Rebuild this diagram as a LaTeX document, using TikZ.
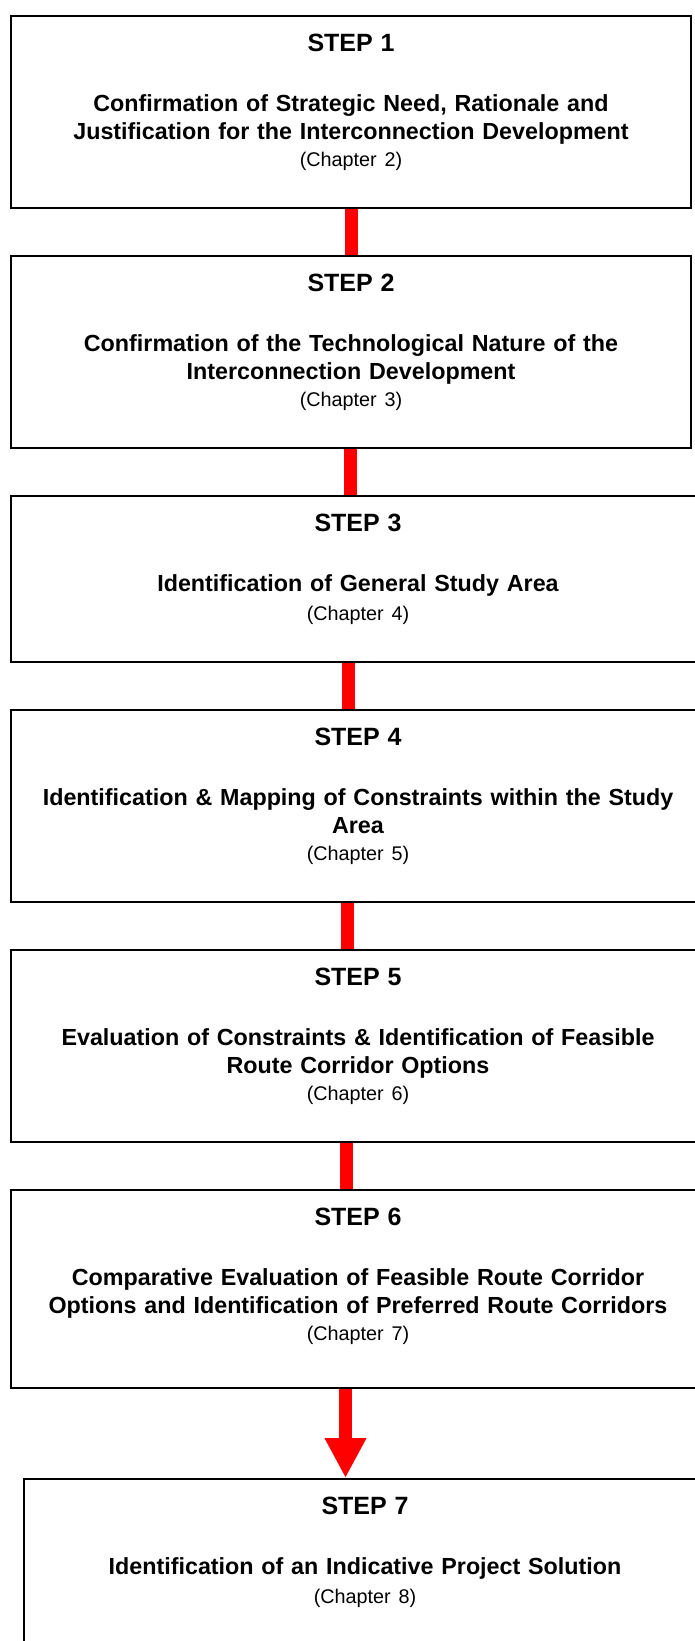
\documentclass[tikz,border=0pt]{standalone}
\usepackage{fontspec}
\setmainfont{Liberation Sans}
\usetikzlibrary{arrows.meta, positioning}

\begin{document}
\begin{tikzpicture}[
    x=1pt, y=1pt,
    stepbox/.style={rectangle, draw, line width=1.5pt, align=center, inner xsep=0pt, inner ysep=0pt,
        text width=680pt, font=\fontsize{23.3}{28.5}\selectfont\bfseries,
        execute at begin node={\rule{0pt}{35.5pt}},
        execute at end node={\rule[-41pt]{0pt}{41pt}}},
    link/.style={draw=red, line width=13pt},
    bigarrow/.style={link, -{Triangle[width=39pt, length=40pt]}, color=red}
 ]
\useasboundingbox (0,0) rectangle (694,-1641);

\node[stepbox, anchor=north] (StepOne) at (351,-15) {{\fontsize{25}{28.5}\selectfont STEP 1}\\[31.5pt]Confirmation of Strategic Need, Rationale and\\Justification for the Interconnection Development\\[-1.5pt]{\mdseries\fontsize{19.8}{28.5}\selectfont (Chapter 2)}};

\node[stepbox, below=46.5pt of StepOne] (StepTwo) {{\fontsize{25}{28.5}\selectfont STEP 2}\\[31.5pt]Confirmation of the Technological Nature of the\\Interconnection Development\\[-1.5pt]{\mdseries\fontsize{19.8}{28.5}\selectfont (Chapter 3)}};
\draw[link] (StepOne) -- (StepTwo);

\node[stepbox, text width=694pt, below=46.5pt of StepTwo, xshift=7pt] (StepThree) {{\fontsize{25}{28.5}\selectfont STEP 3}\\[31.5pt]Identification of General Study Area\\[1pt]{\mdseries\fontsize{19.8}{28.5}\selectfont (Chapter 4)}};
\draw[link] ([xshift=-1pt]StepTwo.south) -- ([xshift=-1pt]StepTwo.south |- StepThree.north);

\node[stepbox, text width=694pt, below=46.5pt of StepThree] (StepFour) {{\fontsize{25}{28.5}\selectfont STEP 4}\\[31.5pt]Identification \& Mapping of Constraints within the Study\\Area\\[-1.5pt]{\mdseries\fontsize{19.8}{28.5}\selectfont (Chapter 5)}};
\draw[link] ([xshift=-10pt]StepThree.south) -- ([xshift=-10pt]StepThree.south |- StepFour.north);

\node[stepbox, text width=694pt, below=46.5pt of StepFour] (StepFive) {{\fontsize{25}{28.5}\selectfont STEP 5}\\[31.5pt]Evaluation of Constraints \& Identification of Feasible\\Route Corridor Options\\[-1.5pt]{\mdseries\fontsize{19.8}{28.5}\selectfont (Chapter 6)}};
\draw[link] ([xshift=-11pt]StepFour.south) -- ([xshift=-11pt]StepFour.south |- StepFive.north);

\node[stepbox, text width=694pt, below=46.5pt of StepFive] (StepSix) {{\fontsize{25}{28.5}\selectfont STEP 6}\\[31.5pt]Comparative Evaluation of Feasible Route Corridor\\Options and Identification of Preferred Route Corridors\\[-1.5pt]{\mdseries\fontsize{19.8}{28.5}\selectfont (Chapter 7)}\rule[-47pt]{0pt}{47pt}};
\draw[link] ([xshift=-12pt]StepFive.south) -- ([xshift=-12pt]StepFive.south |- StepSix.north);

\node[stepbox, text width=682pt, below=89.5pt of StepSix, xshift=7pt] (StepSeven) {{\fontsize{25}{28.5}\selectfont STEP 7}\\[31.5pt]Identification of an Indicative Project Solution\\[1pt]{\mdseries\fontsize{19.8}{28.5}\selectfont (Chapter 8)}\rule[-50pt]{0pt}{50pt}};
\draw[bigarrow] ([xshift=-12.5pt]StepSix.south) -- ([xshift=-12.5pt]StepSix.south |- StepSeven.north);

\end{tikzpicture}
\end{document}
